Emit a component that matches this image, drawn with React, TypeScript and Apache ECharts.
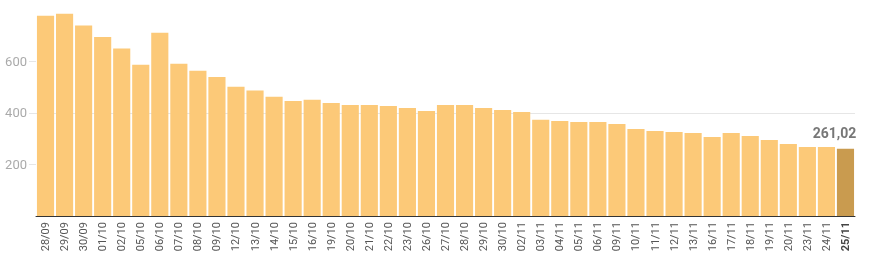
import React, { useEffect, useRef } from "react";
import * as echarts from "echarts";

const categories = [
  "28/09", "29/09", "30/09", "01/10", "02/10", "05/10", "06/10", "07/10", "08/10", "09/10",
  "12/10", "13/10", "14/10", "15/10", "16/10", "19/10", "20/10", "21/10", "22/10", "23/10",
  "26/10", "27/10", "28/10", "29/10", "30/10", "02/11", "03/11", "04/11", "05/11", "06/11",
  "09/11", "10/11", "11/11", "12/11", "13/11", "16/11", "17/11", "18/11", "19/11", "20/11",
  "23/11", "24/11", "25/11",
];

const values = [
  776, 784, 738, 694, 649, 586, 710, 590, 563, 539,
  501, 486, 462, 446, 451, 438, 430, 430, 426, 419,
  407, 430, 430, 419, 411, 403, 373, 368, 364, 364,
  357, 337, 329, 326, 322, 306, 322, 310, 295, 279,
  267, 267, 261.02,
];

const yTicks = [0, 200, 400, 600, 800];

export default function App() {
  const ref = useRef<HTMLDivElement>(null);
  useEffect(() => {
    if (!ref.current) return;
    const chart = echarts.init(ref.current, null, { renderer: "svg" });
    const last = values.length - 1;
    chart.setOption({
      animation: false,
      textStyle: { fontFamily: "Roboto" },
      grid: { left: 36, right: 16, top: 9.6, bottom: 52, containLabel: false },
      xAxis: {
        type: "category",
        data: categories,
        axisLine: { lineStyle: { color: "#333", width: 1 } },
        axisTick: { show: false },
        axisLabel: {
          rotate: 90,
          interval: 0,
          margin: 6,
          color: "#555",
          fontSize: 11,
          fontFamily: "Roboto",
          formatter: (v: string, i: number) => (i === last ? "{b|" + v + "}" : v),
          rich: { b: { fontWeight: "bold", color: "#444", fontSize: 11, fontFamily: "Roboto" } },
        },
      },
      yAxis: {
        type: "value",
        min: yTicks[0],
        max: yTicks[yTicks.length - 1],
        interval: 200,
        axisLine: { show: false },
        axisTick: {
          show: true,
          length: 7,
          lineStyle: { color: "#e6e6e6" },
          customValues: [200, 400, 600],
        },
        axisLabel: {
          showMinLabel: false,
          showMaxLabel: false,
          margin: 9,
          color: "#aaa",
          fontSize: 13,
          fontFamily: "Roboto",
        },
        splitLine: { showMinLine: false, showMaxLine: false, lineStyle: { color: "#e6e6e6" } },
      },
      series: [
        {
          type: "bar",
          barCategoryGap: "10%",
          data: values.map((v, i) =>
            i === last
              ? {
                  value: v,
                  itemStyle: { color: "#C99B4F" },
                  label: {
                    show: true,
                    position: "top",
                    offset: [-11, -4],
                    formatter: () => v.toFixed(2).replace(".", ","),
                    color: "#777",
                    fontWeight: "bold",
                    fontSize: 14,
                    fontFamily: "Roboto",
                  },
                }
              : { value: v, itemStyle: { color: "#FCC978" } }
          ),
        },
      ],
    });
    return () => chart.dispose();
  }, []);
  return <div ref={ref} style={{ position: "fixed", left: 0, top: 0, width: 871, height: 268 }} />;
}
